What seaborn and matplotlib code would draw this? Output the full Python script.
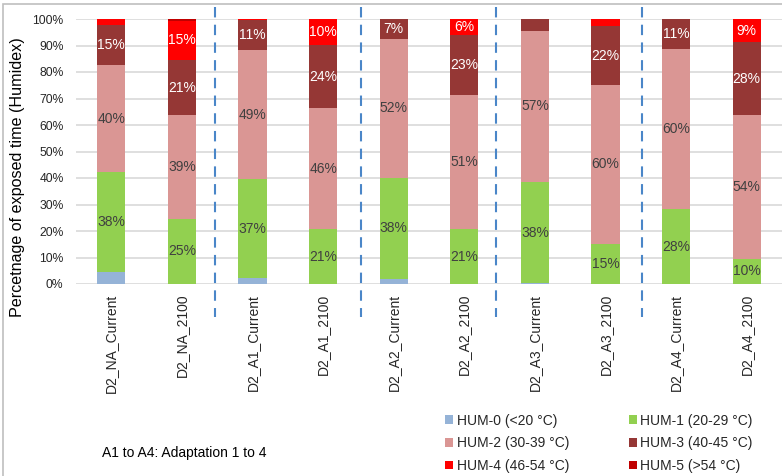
import matplotlib
matplotlib.use("Agg")
import matplotlib.pyplot as plt
import seaborn as sns
import numpy as np
from matplotlib.patches import Patch, Rectangle
from matplotlib.lines import Line2D

# ---------------- data ----------------
scenarios = ["D2_NA_Current", "D2_NA_2100", "D2_A1_Current", "D2_A1_2100",
             "D2_A2_Current", "D2_A2_2100", "D2_A3_Current", "D2_A3_2100",
             "D2_A4_Current", "D2_A4_2100"]
levels = ["HUM-0 (<20 °C)", "HUM-1 (20-29 °C)", "HUM-2 (30-39 °C)",
          "HUM-3 (40-45 °C)", "HUM-4 (46-54 °C)", "HUM-5 (>54 °C)"]
hum0 = [4.6, 0.0, 2.1, 0.0, 1.9, 0.0, 0.3, 0.0, 0.0, 0.0]
hum1 = [37.6, 24.6, 37.4, 20.6, 38.2, 20.6, 38.1, 15.0, 28.2, 9.6]
hum2 = [40.3, 39.0, 48.9, 45.7, 52.5, 50.8, 57.2, 60.2, 60.5, 54.0]
hum3 = [15.4, 21.0, 11.1, 23.8, 7.4, 22.7, 4.4, 22.0, 11.3, 27.6]
hum4 = [2.1, 14.6, 0.5, 9.9, 0.0, 5.9, 0.0, 2.8, 0.0, 8.8]
hum5 = [0.0, 0.8, 0.0, 0.0, 0.0, 0.0, 0.0, 0.0, 0.0, 0.0]
yticks = [0, 10, 20, 30, 40, 50, 60, 70, 80, 90, 100]
note = "A1 to A4: Adaptation 1 to 4"
ylabel = "Percetnage of exposed time (Humidex)"

# ---------------- style ----------------
colors = ["#95B3D7", "#92D050", "#DA9694", "#953735", "#FF0000", "#C00000"]
label_colors = [None, "#404040", "#404040", "white", "white", None]

sns.set_theme(style="white")
plt.rcParams["font.family"] = ["Liberation Sans", "DejaVu Sans"]

W, H = 782, 476
fig = plt.figure(figsize=(W / 100, H / 100), dpi=100)
ax_l, ax_r, ax_t, ax_b = 76, 782, 19, 284
ax = fig.add_axes([ax_l / W, (H - ax_b) / H, (ax_r - ax_l) / W, (ax_b - ax_t) / H])

stack = np.array([hum0, hum1, hum2, hum3, hum4, hum5])
cum = np.cumsum(stack, axis=0)

ax.set_axisbelow(True)
for i in range(len(levels) - 1, -1, -1):
    sns.barplot(x=scenarios, y=cum[i], color=colors[i], saturation=1,
                width=0.4, linewidth=0, ax=ax, order=scenarios)

for i in range(len(levels)):
    if label_colors[i] is None:
        continue
    for j in range(len(scenarios)):
        v = stack[i][j]
        if v >= 5.5:
            ax.text(j, cum[i][j] - v / 2, f"{v:.0f}%", ha="center", va="center",
                    fontsize=10, color=label_colors[i])

ax.set_ylim(0, 100)
ax.set_xlim(-0.5, len(scenarios) - 0.5)
ax.set_yticks(yticks)
ax.set_yticklabels([f"{t}%" for t in yticks], fontsize=8.7, color="#262626")
ax.yaxis.grid(True, color="#D9D9D9", linewidth=1.2)
ax.xaxis.grid(False)
ax.tick_params(axis="y", length=0, pad=9)
ax.tick_params(axis="x", length=0, pad=7)
ax.set_xticks(range(len(scenarios)))
ax.set_xticklabels(scenarios, rotation=90, fontsize=10, color="#262626")
for s in ax.spines.values():
    s.set_visible(False)
ax.set_xlabel("")
ax.set_ylabel("")

# group separators (dashed)
sep_offsets = [-0.03, 0.03, -0.05, 0.02]
for k, off in enumerate(sep_offsets):
    xs = 2 * k + 1.5 + off
    ax.add_line(Line2D([xs, xs], [104.5, -12.5], color="#4A86C8", lw=1.5,
                       ls=(0, (5, 3.5)), clip_on=False, zorder=5))

# y label
fig.text(18 / W, 1 - 177 / H, ylabel, rotation=90, ha="center", va="center",
         fontsize=11.6, color="#000000")

# note
fig.text(102 / W, 1 - 453 / H, note, ha="left", va="center", fontsize=10,
         color="#000000")

# legend
order = [0, 2, 4, 1, 3, 5]
handles = [Patch(facecolor=colors[i], edgecolor="none", label=levels[i]) for i in order]
fig.legend(handles=handles, ncol=2, loc="upper left",
           bbox_to_anchor=(435 / W, 1 - 404 / H), frameon=False, fontsize=10,
           handlelength=0.6, handleheight=0.6, handletextpad=0.25,
           columnspacing=4.3, labelspacing=0.62, borderpad=0.2)

# outer frame
fig.patches.append(Rectangle((3 / W, -0.05), 1.2, 1 - 4 / H + 0.05,
                             transform=fig.transFigure, fill=False,
                             edgecolor="#BFBFBF", lw=1.2))

fig.savefig("out.png", dpi=100)
